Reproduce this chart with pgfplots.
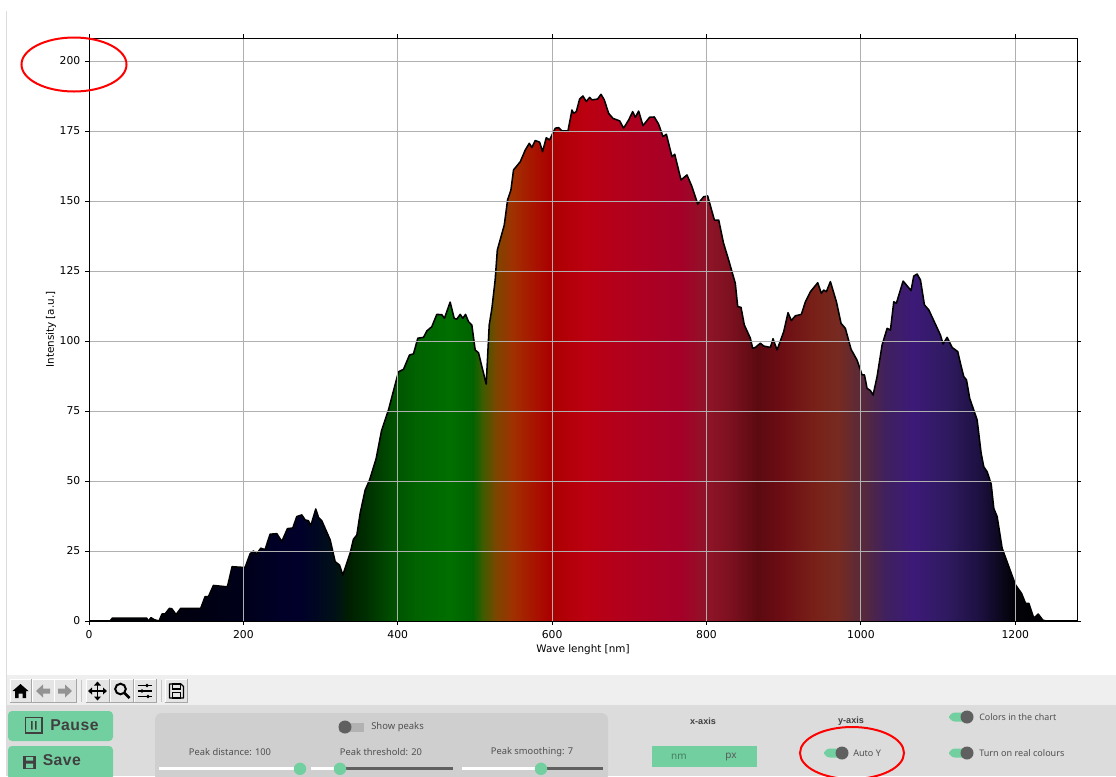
\documentclass[border=0pt]{standalone}
\usepackage{fontspec}
\setmainfont{DejaVu Sans}
\newfontfamily\ui{Noto Sans}
\newfontfamily\uib[LetterSpace=3]{Liberation Sans Bold}
\newfontfamily\uic{Liberation Sans Bold}
\usepackage{pgfplots}
\usepackage{pgfplotstable}
\pgfplotsset{compat=1.18}

\definecolor{green1}{HTML}{72D0A0}
\definecolor{bar}{HTML}{EFEFEF}
\definecolor{panel}{HTML}{DCDCDC}
\definecolor{panel2}{HTML}{CFCFCF}
\definecolor{uitext}{HTML}{505050}
\definecolor{knob}{HTML}{606060}
\definecolor{gridc}{HTML}{B0B0B0}

% colours along the x axis, 25bp = 0 nm, 75bp = 1280 nm
\pgfdeclarehorizontalshading{spectrum}{100bp}{
rgb(0bp)=(0,0,0);
rgb(25bp)=(0,0,0);
rgb(32.79bp)=(0,0,.102);
rgb(34.67bp)=(0,0,.157);
rgb(35.68bp)=(0,0,.165);
rgb(37.35bp)=(0,.06,.094);
rgb(38.21bp)=(0,.125,0);
rgb(39.07bp)=(0,.188,0);
rgb(40.59bp)=(0,.333,0);
rgb(41.6bp)=(0,.388,0);
rgb(43.27bp)=(0,.435,0);
rgb(44.43bp)=(0,.388,0);
rgb(44.94bp)=(.247,.36,0);
rgb(45.65bp)=(.498,.27,0);
rgb(46.46bp)=(.627,.188,0);
rgb(47.47bp)=(.659,.082,0);
rgb(48.33bp)=(.667,0,0);
rgb(50bp)=(.733,0,.063);
rgb(52.53bp)=(.69,0,.125);
rgb(54.91bp)=(.647,0,.157);
rgb(56.28bp)=(.56,.082,.157);
rgb(57.44bp)=(.49,.063,.125);
rgb(58.81bp)=(.36,.04,.063);
rgb(59.97bp)=(.424,.047,.078);
rgb(61.64bp)=(.47,.125,.094);
rgb(62.85bp)=(.47,.165,.125);
rgb(64.02bp)=(.353,.165,.22);
rgb(65.38bp)=(.247,.125,.376);
rgb(66.7bp)=(.235,.102,.47);
rgb(68.42bp)=(.184,.102,.376);
rgb(70.09bp)=(.11,.063,.25);
rgb(71.76bp)=(.008,.008,.031);
rgb(75bp)=(0,0,0);
rgb(100bp)=(0,0,0)}

\pgfplotstableread{
x y
0 0
27.2 0
30.2 1
74.8 1
76.9 0
80.4 1.2
84.3 0.5
90.7 0
94.6 2.5
98.5 2.5
104.1 4.5
107.2 4.4
112.8 2.3
118.8 4.5
144.7 4.5
150.4 8.7
154.7 8.7
161.2 12.7
179.3 12.2
185.4 19.4
202.2 19.1
208.7 24
213 25
217.4 24
222.5 26
228.1 25.5
234.6 31
243.3 31.2
249.8 28.4
257.1 33
264 33.2
269.2 37.3
275.7 37.9
280 36.1
284.3 35.8
287.3 34
293.8 40
297.3 37
301.6 35.8
312.4 29
318.9 21.2
324.5 20
328.8 16.4
338.3 24.2
342.6 29.2
347 30.7
351.3 38.5
357.8 46.8
363.4 50.3
372 58
379 68
388 75.4
393.6 81.3
401 89
407.5 89.9
415.2 95
420.4 95.4
426 101
433.4 101.3
437.7 103.6
444.1 105.1
450.6 109.5
457.1 109.4
460.5 108.1
467.9 113.9
473.1 108.1
476.5 107.8
480.9 109.5
484.3 108.1
487.8 109.5
491.7 106.9
496 105.7
500.3 96.8
504.6 95.8
514.6 84.6
518.5 105.7
522 111.7
526.2 121.8
529 132.5
538 141.4
542.3 150.4
546.6 153.9
550 161.1
558.7 164
565.2 168.2
570.4 170.6
573.8 169.1
578.1 171.6
583.8 171
587.6 167.6
592.4 172.6
596.7 171.8
604.1 176
608.4 176.2
612.7 175
620.5 175
625.7 182.5
627.8 181.3
631.3 181.9
635.6 186.4
639.9 187.5
644.2 185.5
648.6 187
651.6 186.1
658.9 186.4
663.3 188.1
667.6 186.1
673.2 181.3
678.8 179.5
687.5 178.6
692.6 176
699.1 178.9
704.3 181.9
707.8 179.9
712.1 182.1
717.7 176.9
726.3 179.9
732.4 180
738 177.4
743.6 173
748 173.8
755.3 165.8
758.8 166.7
767 157.5
774.7 159.3
781.2 155.1
788.6 148.9
796.3 151.5
801.5 151.8
810.2 143.2
815.8 143.2
822 135
828.7 128.9
837.3 120.6
840.4 112.3
844.7 112
849 105.7
856.8 101
859.8 97.4
863.3 97.7
869.8 99.2
874.1 98.2
882.7 97.7
886.2 100.8
891.4 96.8
900 103.3
905.6 110.1
909.9 107.3
915.1 109
922.9 109.5
928.1 114
934.6 117.6
944.1 120.8
948.8 117
951.8 118.2
955.3 117.6
960.5 121.2
968.3 114
974.3 106.3
979.9 104.5
987.3 97
995 93.2
1001.5 87.9
1004.6 87.9
1008 83.1
1012.3 82.3
1015.8 80.7
1021 87.3
1027.5 98.6
1034 104.5
1038.3 103.9
1042.6 114
1046 113.5
1054.7 121.4
1065 118
1068.5 123.2
1072.8 123.9
1077.2 121.8
1082.3 112.9
1088 111.1
1103.1 102.1
1106.5 98.9
1111.7 101.3
1118.2 97.7
1125.5 96.2
1129 92
1133.3 87.3
1136.8 86.1
1141 79.5
1145.4 76
1150.6 71.8
1155.8 59.9
1159.2 55.1
1163.6 53.3
1168.8 48.9
1172.2 40.2
1176.5 37.3
1183 26
1191.7 19.4
1200.3 12.9
1208.1 9.9
1213.3 6.3
1217.6 6.3
1224 1
1229.7 2.5
1235.7 0.3
1240 0
1280 0
}\spectrumdata

\newcommand{\uifs}[1]{\ui\fontsize{#1}{#1}\selectfont}
\newcommand{\btn}{\uib\fontsize{11.8}{12}\selectfont}
\newcommand{\axt}{\uic\fontsize{6.8}{7}\selectfont}

\begin{document}
\begin{tikzpicture}
\clip (0,0) rectangle (837pt,-582pt);
\fill[white] (0,0) rectangle (837pt,-582pt);

\begin{axis}[
  at={(66.75pt,-465.75pt)}, anchor=south west,
  scale only axis, width=741pt, height=437.25pt,
  xmin=0, xmax=1280, ymin=0, ymax=208.2,
  xtick={0,200,...,1200}, ytick={0,25,...,200},
  tick align=outside, tick pos=both,
  major tick length=3pt,
  every tick/.style={black,line width=.6pt},
  axis line style={black,line width=.7pt},
  grid=major, grid style={gridc,line width=.7pt},
  axis on top,
  /pgf/number format/1000 sep={},
  tick label style={font=\fontsize{8.1}{9}\selectfont,/pgf/number format/assume math mode=true},
  xticklabel style={yshift=-.5pt},
  xlabel={Wave lenght [nm]}, ylabel={Intensity [a.u.]},
  label style={font=\fontsize{7.8}{9}\selectfont},
  x label style={at={(axis description cs:0.5,-0.0485)},anchor=center},
  y label style={at={(axis description cs:-0.0385,0.5)},anchor=center},
]
\addplot[draw=none,shading=spectrum] table {\spectrumdata} \closedcycle;
\addplot[black,line width=1.15pt,line join=round] table {\spectrumdata};
\end{axis}

\begin{scope}[x=.75pt,y=-.75pt]
% window frame and bands
\fill[panel] (6,11) rectangle (7.4,776);
\fill[bar] (7,675) rectangle (1116,705);
\fill[panel] (7,705) rectangle (1116,776);

% toolbar buttons
\foreach \a/\b in {10/31,32/54,54/76,86/109,110/133,134/156,165/187}{
  \fill[bar!96!black] (\a,679) rectangle (\b,702);
  \draw[gray!70,line width=.5pt] (\a,702) -- (\b,702) -- (\b,679);
  \draw[white,line width=.5pt] (\a,702) -- (\a,679) -- (\b,679);
}
\draw[gray!45] (81,680) -- (81,702);
\draw[gray!45] (161,680) -- (161,702);
% home
\fill[black] (12.5,691) -- (20.5,684) -- (28.5,691) -- (26,691) -- (26,698) -- (22.5,698) -- (22.5,693.5) -- (18.5,693.5) -- (18.5,698) -- (15,698) -- (15,691) -- cycle;
% back / forward
\fill[gray!85] (36,691) -- (43,684.5) -- (43,688.5) -- (50,688.5) -- (50,693.5) -- (43,693.5) -- (43,697.5) -- cycle;
\fill[gray!85] (72,691) -- (65,684.5) -- (65,688.5) -- (58,688.5) -- (58,693.5) -- (65,693.5) -- (65,697.5) -- cycle;
% pan
\draw[black,line width=1.3pt] (90,691) -- (105,691) (97.5,683.5) -- (97.5,698.5);
\fill[black] (88,691) -- (92,687.5) -- (92,694.5) -- cycle (107,691) -- (103,687.5) -- (103,694.5) -- cycle
  (97.5,681.5) -- (94,685.5) -- (101,685.5) -- cycle (97.5,700.5) -- (94,696.5) -- (101,696.5) -- cycle;
% zoom
\draw[black,line width=1.5pt] (120.5,689) circle (5.3);
\draw[black,line width=2pt] (124.5,693) -- (129.5,698);
% config
\draw[black,line width=.9pt] (138,685.5) -- (152,685.5) (138,691) -- (152,691) (138,696.5) -- (152,696.5);
\fill[black] (147,685.5) circle (1.9) (142,691) circle (1.9) (148,696.5) circle (1.9);
% save icon
\draw[black,line width=1pt,line join=round] (169.5,684) -- (181,684) -- (183.5,686.5) -- (183.5,698) -- (169.5,698) -- cycle;
\draw[black,line width=.9pt] (172.5,684) rectangle (180.5,689) (172.5,698) rectangle (180.5,692.5);

% buttons
\fill[green1,rounded corners=3] (8,711) rectangle (113,741);
\fill[green1,rounded corners=3] (8,746) rectangle (113,780);
\draw[black!75,line width=1pt] (25.5,717.5) rectangle (42,733);
\fill[black!75] (31,721) rectangle (32.6,729.5) (35,721) rectangle (36.6,729.5);
\node[anchor=west,inner sep=0,text=black!75] at (50,725.5) {\btn Pause};
\fill[black!75] (23,756) rectangle (36,768.5);
\fill[green1] (26,757) rectangle (33,760.5) (26,763.5) rectangle (33,768);
\node[anchor=west,inner sep=0,text=black!75] at (42.5,760.5) {\btn Save};

% peak panel
\fill[panel2,rounded corners=5] (155,713) rectangle (608,782);
\fill[black!30] (339,722.5) rectangle (364,731.5);
\fill[knob] (345,727) circle (6.5);
\node[anchor=west,inner sep=0,text=uitext] at (371,727) {\uifs{7.1}Show peaks};
\node[text=uitext,inner sep=0] at (230,752) {\uifs{7}Peak distance: 100};
\node[text=uitext,inner sep=0] at (381,752) {\uifs{7}Peak threshold: 20};
\node[text=uitext,inner sep=0] at (532,752) {\uifs{7}Peak smoothing: 7};
\fill[white] (159,767.3) rectangle (305,770.3);
\fill[white] (311,767.3) rectangle (340,770.3);
\fill[knob] (340,767.3) rectangle (453,770.3);
\fill[white] (462,767.3) rectangle (541,770.3);
\fill[knob] (541,767.3) rectangle (603,770.3);
\fill[green1] (300,768.8) circle (6.2) (340,768.8) circle (6.2) (541,768.8) circle (6.2);

% axis controls
\node[text=black!75,inner sep=0] at (703,721) {\axt x-axis};
\node[text=black!75,inner sep=0] at (851,721) {\axt y-axis};
\fill[green1] (652,746) rectangle (757,767);
\node[text=green1!60!black,inner sep=0] at (679,757) {\uifs{7.5}nm};
\node[text=black!65,inner sep=0] at (731,757) {\uifs{7.5}px};

\fill[green1,rounded corners=4.5] (824,748.5) rectangle (846,757.5);
\fill[knob] (842,753) circle (6.5);
\node[anchor=west,inner sep=0,text=uitext] at (853,753) {\uifs{6.8}Auto Y};
\fill[green1,rounded corners=4.5] (949,712.5) rectangle (971,721.5);
\fill[knob] (967,717) circle (6.5);
\node[anchor=west,inner sep=0,text=uitext] at (979,717) {\uifs{6.7}Colors in the chart};
\fill[green1,rounded corners=4.5] (949,748.5) rectangle (971,757.5);
\fill[knob] (967,753) circle (6.5);
\node[anchor=west,inner sep=0,text=uitext] at (979,753) {\uifs{6.8}Turn on real colours};

% red marks
\draw[red,line width=1.5pt] (74,64.5) ellipse (52.5 and 27);
\draw[red,line width=1.5pt] (852,753) ellipse (52 and 26);
\end{scope}
\end{tikzpicture}
\end{document}
